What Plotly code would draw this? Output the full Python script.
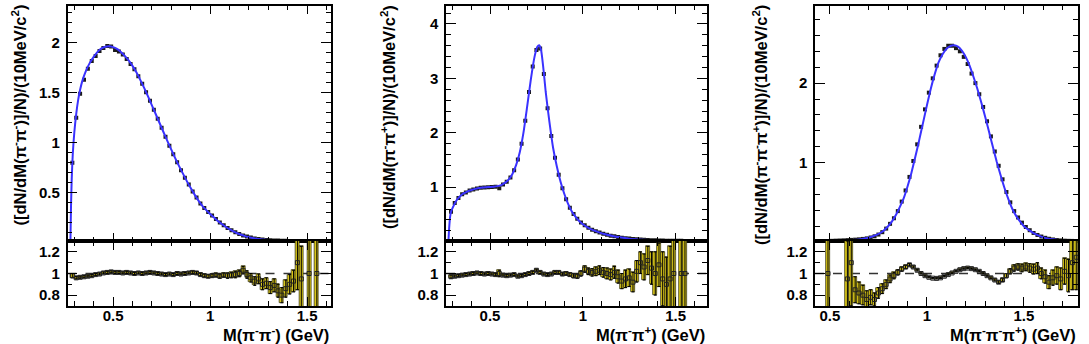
import numpy as np
import plotly.graph_objects as go

# ------------------------------------------------------------------ data
BIN_WIDTH = 0.02

# Panel 1 : M(pi- pi-)
pmpm_first_bin = 0.29
pmpm_data = [0.80, 1.25, 1.49, 1.63, 1.74, 1.82, 1.87, 1.92, 1.95, 1.97,
             1.965, 1.93, 1.915, 1.885, 1.84, 1.79, 1.735, 1.665, 1.59, 1.505,
             1.42, 1.33, 1.24, 1.15, 1.06, 0.97, 0.885, 0.805, 0.725, 0.65,
             0.58, 0.51, 0.45, 0.39, 0.345, 0.305, 0.27, 0.235, 0.20, 0.172,
             0.146, 0.123, 0.103, 0.086, 0.071, 0.059, 0.049, 0.041, 0.034, 0.030,
             0.026, 0.023, 0.021, 0.019, 0.018, 0.017, 0.016, 0.015, 0.015, 0.014,
             0.014, 0.014, 0.014, 0.014]
pmpm_ratio = [0.98, 0.96, 0.965, 0.97, 0.975, 0.98, 0.99, 0.995, 1.005, 1.01,
              1.015, 1.01, 1.01, 1.005, 1.01, 1.005, 1.0, 1.005, 1.0, 1.005,
              1.01, 1.005, 1.0, 0.995, 0.99, 0.995, 0.99, 1.0, 0.995, 1.0,
              1.005, 1.01, 1.005, 0.99, 0.98, 0.975, 0.98, 0.985, 0.975, 0.985,
              0.98, 0.985, 0.99, 1.0, 1.03, 0.99, 0.96, 0.93, 0.95, 0.9,
              0.91, 0.87, 0.89, 0.84, 0.8, 0.86, 0.9, 0.93, 1.1, 0.95,
              None, 1.0, None, 1.0]
pmpm_ratio_err = [0.02, 0.012, 0.01, 0.01, 0.01, 0.01, 0.01, 0.01, 0.01, 0.01,
                  0.01, 0.01, 0.01, 0.01, 0.01, 0.01, 0.01, 0.01, 0.01, 0.01,
                  0.01, 0.01, 0.01, 0.01, 0.01, 0.01, 0.01, 0.01, 0.01, 0.01,
                  0.01, 0.012, 0.012, 0.012, 0.014, 0.014, 0.015, 0.016, 0.02, 0.02,
                  0.025, 0.025, 0.03, 0.03, 0.035, 0.035, 0.04, 0.04, 0.045, 0.05,
                  0.05, 0.055, 0.06, 0.06, 0.07, 0.08, 0.09, 0.1, 0.25, 0.3,
                  None, 0.6, None, 0.7]
pmpm_fit_x = [0.280, 0.283, 0.287, 0.292, 0.30, 0.31, 0.32, 0.33, 0.34, 0.36,
              0.38, 0.40, 0.42, 0.44, 0.46, 0.48, 0.50, 0.52, 0.54, 0.56,
              0.58, 0.60, 0.62, 0.64, 0.66, 0.68, 0.70, 0.72, 0.74, 0.76,
              0.78, 0.80, 0.82, 0.84, 0.86, 0.88, 0.90, 0.92, 0.94, 0.96,
              0.98, 1.00, 1.02, 1.04, 1.06, 1.08, 1.10, 1.12, 1.14, 1.16,
              1.18, 1.20, 1.25, 1.30, 1.35, 1.40, 1.50, 1.56]
pmpm_fit_y = [0.0, 0.35, 0.65, 0.88, 1.10, 1.29, 1.43, 1.53, 1.61, 1.72,
              1.80, 1.86, 1.91, 1.945, 1.962, 1.966, 1.958, 1.94, 1.91, 1.87,
              1.825, 1.77, 1.705, 1.63, 1.55, 1.465, 1.375, 1.285, 1.195, 1.105,
              1.015, 0.93, 0.845, 0.765, 0.69, 0.615, 0.545, 0.48, 0.42, 0.367,
              0.325, 0.285, 0.25, 0.215, 0.185, 0.158, 0.133, 0.112, 0.093, 0.077,
              0.064, 0.053, 0.034, 0.024, 0.018, 0.016, 0.014, 0.014]

# Panel 2 : M(pi- pi+)
pmpp_first_bin = 0.29
pmpp_data = [0.55, 0.71, 0.80, 0.87, 0.905, 0.94, 0.96, 0.975, 0.99, 0.995,
             1.0, 1.005, 1.01, 0.98, 1.05, 1.10, 1.18, 1.31, 1.51, 1.80,
             2.22, 2.75, 3.22, 3.52, 3.55, 3.08, 2.45, 1.94, 1.54, 1.23,
             0.98, 0.78, 0.625, 0.51, 0.42, 0.35, 0.30, 0.255, 0.22, 0.19,
             0.17, 0.145, 0.125, 0.11, 0.097, 0.085, 0.074, 0.064, 0.056, 0.049,
             0.043, 0.038, 0.034, 0.03, 0.027, 0.024, 0.022, 0.02, 0.018, 0.017,
             0.016, 0.015, 0.015, 0.014]
pmpp_ratio = [0.97, 0.975, 0.98, 0.985, 0.99, 0.995, 1.0, 1.005, 1.0, 0.995,
              1.0, 0.995, 0.99, 1.0, 0.985, 0.98, 0.985, 0.99, 0.975, 0.98,
              0.99, 1.0, 1.01, 1.03, 1.01, 0.995, 0.99, 0.995, 1.01, 1.01,
              0.995, 1.0, 0.99, 0.98, 0.975, 1.0, 1.04, 1.02, 1.01, 1.02,
              1.03, 1.01, 1.0, 0.99, 1.01, 0.97, 0.93, 0.95, 0.96, 0.92,
              1.02, 1.1, 1.06, 1.12, 1.05, 1.0, 1.08, 0.95, 0.9, 0.95,
              1.0, None, 1.0, 1.0]
pmpp_ratio_err = [0.015, 0.01, 0.01, 0.01, 0.01, 0.01, 0.01, 0.01, 0.01, 0.01,
                  0.01, 0.01, 0.012, 0.03, 0.01, 0.01, 0.01, 0.01, 0.01, 0.01,
                  0.01, 0.01, 0.01, 0.01, 0.01, 0.01, 0.01, 0.01, 0.01, 0.012,
                  0.012, 0.014, 0.015, 0.02, 0.02, 0.025, 0.03, 0.03, 0.035, 0.04,
                  0.04, 0.045, 0.05, 0.05, 0.055, 0.06, 0.07, 0.08, 0.08, 0.09,
                  0.1, 0.1, 0.12, 0.13, 0.15, 0.2, 0.2, 0.25, 0.25, 0.3,
                  0.5, None, 0.7, 0.8]
pmpp_fit_x = [0.276, 0.280, 0.285, 0.29, 0.30, 0.32, 0.34, 0.36, 0.38, 0.40,
              0.42, 0.44, 0.46, 0.48, 0.50, 0.52, 0.54, 0.56, 0.58, 0.60,
              0.62, 0.64, 0.66, 0.68, 0.70, 0.72, 0.74, 0.755, 0.765, 0.775,
              0.79, 0.80, 0.82, 0.84, 0.86, 0.88, 0.90, 0.92, 0.94, 0.96,
              0.98, 1.00, 1.04, 1.08, 1.12, 1.16, 1.20, 1.25, 1.30, 1.35,
              1.40, 1.50, 1.56]
pmpp_fit_y = [0.0, 0.25, 0.45, 0.55, 0.63, 0.76, 0.84, 0.89, 0.925, 0.95,
              0.97, 0.985, 0.995, 1.0, 1.005, 1.01, 1.02, 1.04, 1.08, 1.14,
              1.24, 1.40, 1.64, 2.00, 2.48, 2.98, 3.40, 3.58, 3.61, 3.52,
              3.10, 2.75, 2.20, 1.72, 1.38, 1.10, 0.88, 0.70, 0.56, 0.46,
              0.38, 0.32, 0.235, 0.18, 0.135, 0.105, 0.08, 0.055, 0.04, 0.03,
              0.022, 0.015, 0.014]

# Panel 3 : M(pi- pi- pi+)
pmpmpp_first_bin = 0.45
pmpmpp_data = [0.01, 0.012, 0.014, 0.016, 0.018, 0.02, 0.022, 0.025, 0.028, 0.031,
               0.035, 0.04, 0.047, 0.058, 0.073, 0.095, 0.125, 0.17, 0.23, 0.30,
               0.39, 0.51, 0.65, 0.82, 1.02, 1.23, 1.45, 1.67, 1.88, 2.06,
               2.22, 2.35, 2.43, 2.47, 2.47, 2.44, 2.40, 2.33, 2.24, 2.12,
               2.0, 1.86, 1.70, 1.52, 1.33, 1.14, 0.96, 0.79, 0.63, 0.50,
               0.39, 0.31, 0.245, 0.19, 0.15, 0.115, 0.09, 0.07, 0.054, 0.042,
               0.033, 0.026, 0.021, 0.018, 0.016, 0.015, 0.014]
pmpmpp_ratio = [None, None, 1.0, None, None, None, None, 0.95, 1.1, 0.85,
                0.82, 0.8, 0.76, 0.78, 0.76, 0.82, 0.86, 0.9, 0.95, 0.98,
                1.01, 1.04, 1.06, 1.08, 1.06, 1.03, 1.0, 0.98, 0.965, 0.957,
                0.955, 0.96, 0.975, 0.99, 1.005, 1.02, 1.035, 1.045, 1.05, 1.045,
                1.035, 1.02, 1.0, 0.98, 0.96, 0.94, 0.92, 0.94, 0.98, 1.02,
                1.05, 1.06, 1.05, 1.06, 1.05, 1.04, 1.05, 1.0, 0.97, 0.92,
                0.96, 0.98, 0.95, 1.02, 0.98, 1.1, 1.15]
pmpmpp_ratio_err = [None, None, 0.6, None, None, None, None, 0.35, 0.4, 0.12,
                    0.1, 0.09, 0.08, 0.07, 0.06, 0.05, 0.045, 0.04, 0.035, 0.03,
                    0.025, 0.02, 0.015, 0.012, 0.01, 0.008, 0.006, 0.006, 0.006, 0.006,
                    0.006, 0.006, 0.006, 0.006, 0.006, 0.006, 0.006, 0.006, 0.006, 0.006,
                    0.006, 0.006, 0.006, 0.006, 0.008, 0.01, 0.012, 0.015, 0.02, 0.025,
                    0.03, 0.03, 0.035, 0.035, 0.04, 0.045, 0.05, 0.05, 0.06, 0.06,
                    0.07, 0.08, 0.1, 0.12, 0.15, 0.25, 0.3]
pmpmpp_fit_x = [0.43, 0.50, 0.55, 0.60, 0.65, 0.70, 0.74, 0.77, 0.80, 0.82,
                0.84, 0.86, 0.88, 0.90, 0.92, 0.94, 0.96, 0.98, 1.00, 1.02,
                1.04, 1.06, 1.08, 1.10, 1.12, 1.14, 1.16, 1.18, 1.20, 1.22,
                1.24, 1.26, 1.28, 1.30, 1.32, 1.34, 1.36, 1.38, 1.40, 1.42,
                1.44, 1.46, 1.48, 1.50, 1.53, 1.56, 1.60, 1.65, 1.70, 1.78]
pmpmpp_fit_y = [0.013, 0.015, 0.018, 0.024, 0.034, 0.055, 0.09, 0.13, 0.20, 0.26,
                0.34, 0.44, 0.55, 0.70, 0.87, 1.07, 1.28, 1.50, 1.72, 1.93,
                2.11, 2.26, 2.36, 2.43, 2.465, 2.475, 2.46, 2.41, 2.33, 2.22,
                2.08, 1.93, 1.76, 1.58, 1.39, 1.20, 1.01, 0.84, 0.68, 0.54,
                0.42, 0.33, 0.26, 0.20, 0.145, 0.10, 0.06, 0.035, 0.02, 0.014]

# axis labels
x_titles = ["M(π<sup>-</sup>π<sup>-</sup>) (GeV)",
            "M(π<sup>-</sup>π<sup>+</sup>) (GeV)",
            "M(π<sup>-</sup>π<sup>-</sup>π<sup>+</sup>) (GeV)"]
y_titles = ["([dN/dM(π<sup>-</sup>π<sup>-</sup>)]/N)/(10MeV/c<sup>2</sup>)",
            "([dN/dM(π<sup>-</sup>π<sup>+</sup>)]/N)/(10MeV/c<sup>2</sup>)",
            "([dN/dM(π<sup>-</sup>π<sup>-</sup>π<sup>+</sup>)]/N)/(10MeV/c<sup>2</sup>)"]

# ------------------------------------------------------------------ layout helpers
W, H = 1089, 344
FONT = "Liberation Sans"
YELLOW = "#d9c619"
BLUE = "#3a32ff"


def hdom(a, b):
    return [a / W, b / W]


def vdom(top, bottom):
    return [1 - bottom / H, 1 - top / H]


panels = [
    dict(first=pmpm_first_bin, data=pmpm_data, ratio=pmpm_ratio, err=pmpm_ratio_err,
         fx=pmpm_fit_x, fy=pmpm_fit_y, left=67.5, right=331, xr=[0.265, 1.623],
         yr=[0.015, 2.37], ydt=0.5, ymin=0.1, ytx=19),
    dict(first=pmpp_first_bin, data=pmpp_data, ratio=pmpp_ratio, err=pmpp_ratio_err,
         fx=pmpp_fit_x, fy=pmpp_fit_y, left=446, right=706.5, xr=[0.263, 1.666],
         yr=[0.012, 4.33], ydt=1, ymin=0.2, ytx=388),
    dict(first=pmpmpp_first_bin, data=pmpmpp_data, ratio=pmpmpp_ratio, err=pmpmpp_ratio_err,
         fx=pmpmpp_fit_x, fy=pmpmpp_fit_y, left=815, right=1078, xr=[0.423, 1.779],
         yr=[0.014, 2.97], ydt=1, ymin=0.2, ytx=760),
]

MAIN_TOP, MAIN_BOT, RAT_BOT = 6, 241, 306

fig = go.Figure()
layout = {}
tickfont = dict(family=FONT, size=15, color="black", weight="bold")
common = dict(showline=True, linecolor="black", linewidth=1.5, mirror="ticks",
              ticks="inside", tickcolor="black", tickwidth=1.2, showgrid=False,
              zeroline=False, tickfont=tickfont)


def name(kind, n):
    return kind + "axis" + ("" if n == 1 else str(n))


def ref(kind, n):
    return kind + ("" if n == 1 else str(n))


annotations = []
shapes = []
for k, p in enumerate(panels):
    nm = 2 * k + 1   # main
    nr = 2 * k + 2   # ratio
    n = len(p["data"])
    bins = np.round(p["first"] + BIN_WIDTH * np.arange(n), 3)

    # main: data points
    fig.add_trace(go.Scatter(
        x=bins, y=p["data"], mode="markers", xaxis=ref("x", nm), yaxis=ref("y", nm),
        marker=dict(symbol="square", size=4, color="#1a1a1a"), showlegend=False))
    # main: fit curve
    fig.add_trace(go.Scatter(
        x=p["fx"], y=p["fy"], mode="lines", xaxis=ref("x", nm), yaxis=ref("y", nm),
        line=dict(color=BLUE, width=2, shape="spline", smoothing=0.6), showlegend=False))

    # ratio: boxes + error bars + markers
    rx = [b for b, r in zip(bins, p["ratio"]) if r is not None]
    ry = [r for r in p["ratio"] if r is not None]
    re = [e for e in p["err"] if e is not None]
    fig.add_trace(go.Bar(
        x=rx, y=[2 * e for e in re], base=[r - e for r, e in zip(ry, re)],
        width=BIN_WIDTH, xaxis=ref("x", nr), yaxis=ref("y", nr),
        marker=dict(color=YELLOW, line=dict(color="#2a2a10", width=0.7)),
        showlegend=False))
    fig.add_trace(go.Scatter(
        x=rx, y=ry, mode="markers", xaxis=ref("x", nr), yaxis=ref("y", nr),
        error_y=dict(type="data", array=re, color="black", thickness=1, width=1.5),
        marker=dict(symbol="square-open", size=4, color="#222", line=dict(width=1)),
        showlegend=False))

    shapes.append(dict(type="line", xref=ref("x", nr), yref=ref("y", nr),
                       x0=p["xr"][0], x1=p["xr"][1], y0=1, y1=1, layer="below",
                       line=dict(color="#333", width=1.5, dash="dash")))

    hd = hdom(p["left"], p["right"])
    layout[name("x", nm)] = dict(common, domain=hd, range=p["xr"], anchor=ref("y", nm),
                                 dtick=0.5, tick0=0, ticklen=8, showticklabels=False,
                                 minor=dict(dtick=0.1, ticklen=4, ticks="inside",
                                            tickcolor="black", tickwidth=1))
    layout[name("y", nm)] = dict(common, domain=vdom(MAIN_TOP, MAIN_BOT), range=p["yr"],
                                 anchor=ref("x", nm), dtick=p["ydt"], tick0=0, ticklen=10,
                                 ticklabelstandoff=3,
                                 minor=dict(dtick=p["ymin"], ticklen=5, ticks="inside",
                                            tickcolor="black", tickwidth=1))
    layout[name("x", nr)] = dict(common, domain=hd, range=p["xr"], anchor=ref("y", nr),
                                 dtick=0.5, tick0=0, ticklen=9, ticklabelstandoff=-5,
                                 minor=dict(dtick=0.1, ticklen=5, ticks="inside",
                                            tickcolor="black", tickwidth=1))
    layout[name("y", nr)] = dict(common, domain=vdom(MAIN_BOT, RAT_BOT), range=[0.7, 1.3],
                                 anchor=ref("x", nr), dtick=0.2, tick0=0, ticklen=10,
                                 ticklabelstandoff=3,
                                 minor=dict(dtick=0.1, ticklen=5, ticks="inside",
                                            tickcolor="black", tickwidth=1))

    annotations.append(dict(text=x_titles[k], xref="paper", yref="paper",
                            x=p["right"] / W, y=1 - 334 / H, xanchor="right", yanchor="middle",
                            showarrow=False,
                            font=dict(family=FONT, size=16.5, color="black", weight="bold")))
    annotations.append(dict(text=y_titles[k], xref="paper", yref="paper",
                            x=p["ytx"] / W, y=1 - 3 / H, xanchor="center", yanchor="top",
                            textangle=-90, showarrow=False,
                            font=dict(family=FONT, size=16.5, color="black", weight="bold")))

fig.update_layout(
    width=W, height=H, margin=dict(l=0, r=0, t=0, b=0),
    paper_bgcolor="white", plot_bgcolor="white",
    bargap=0, barmode="overlay",
    annotations=annotations, shapes=shapes, **layout)

fig.write_html("out.html", config={"displayModeBar": False},
               post_script="document.body.style.margin='0px';document.body.style.overflow='hidden';")
